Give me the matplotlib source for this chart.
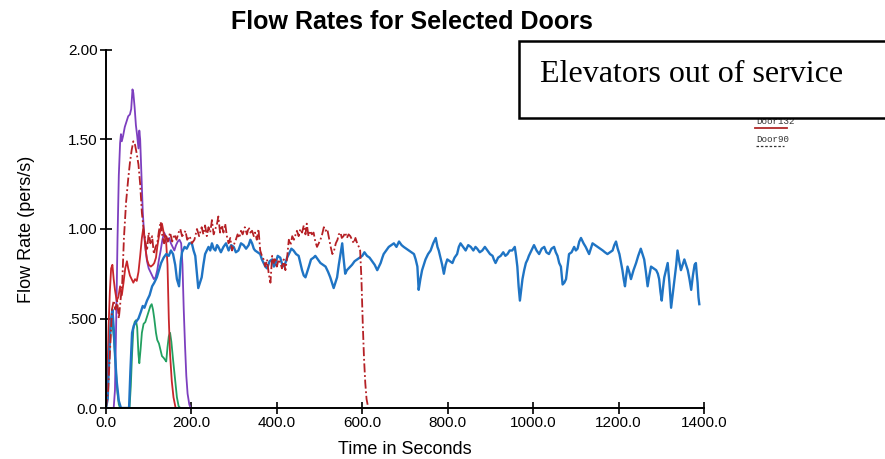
import matplotlib
matplotlib.use("Agg")
import matplotlib.pyplot as plt
from matplotlib.patches import Rectangle
from matplotlib.lines import Line2D

# ---------------- data (time s, flow pers/s) ----------------
blue_pts = [(0,0),(4,0.05),(8,0.32),(12,0.5),(15,0.55),(18,0.45),(21,0.3),(25,0.15),(30,0.04),(35,0),(54,0),(57,0.2),(61,0.42),(65,0.46),(70,0.48),(76,0.5),(82,0.54),(86,0.57),(90,0.56),(96,0.6),(102,0.63),(108,0.68),(113,0.7),(119,0.73),(124,0.77),(129,0.81),(135,0.84),(141,0.86),(147,0.85),(152,0.88),(157,0.86),(162,0.80),(166,0.72),(171,0.68),(175,0.82),(178,0.87),(184,0.9),(189,0.89),(195,0.92),(201,0.92),(205,0.88),(209,0.85),(213,0.75),(216,0.67),(220,0.7),(224,0.73),(228,0.8),(232,0.86),(236,0.88),(240,0.90),(244,0.88),(248,0.92),(252,0.89),(256,0.88),(260,0.91),(263,0.90),(269,0.87),(275,0.90),(281,0.92),(287,0.88),(293,0.91),(299,0.90),(304,0.87),(310,0.88),(316,0.92),(322,0.91),(328,0.89),(334,0.91),(338,0.94),(342,0.92),(346,0.89),(349,0.88),(355,0.87),(361,0.86),(365,0.83),(369,0.81),(373,0.79),(377,0.78),(383,0.82),(389,0.83),(393,0.79),(396,0.80),(402,0.85),(408,0.84),(414,0.79),(420,0.81),(424,0.84),(428,0.86),(434,0.89),(439,0.88),(445,0.86),(451,0.85),(455,0.81),(459,0.77),(463,0.74),(467,0.73),(471,0.76),(475,0.79),(480,0.83),(486,0.84),(490,0.85),(496,0.83),(502,0.81),(508,0.80),(514,0.79),(520,0.76),(525,0.73),(529,0.70),(533,0.67),(537,0.70),(541,0.73),(545,0.80),(549,0.86),(553,0.92),(556,0.84),(560,0.75),(564,0.77),(568,0.78),(572,0.79),(576,0.80),(582,0.82),(588,0.83),(594,0.84),(600,0.85),(605,0.87),(611,0.85),(617,0.84),(623,0.82),(629,0.80),(635,0.77),(639,0.79),(643,0.81),(647,0.84),(650,0.86),(656,0.88),(662,0.90),(668,0.91),(674,0.92),(680,0.90),(686,0.93),(692,0.91),(697,0.90),(703,0.89),(709,0.88),(715,0.87),(721,0.86),(725,0.83),(729,0.79),(732,0.66),(736,0.72),(740,0.77),(744,0.80),(748,0.83),(754,0.86),(760,0.88),(766,0.92),(772,0.95),(776,0.90),(779,0.88),(783,0.84),(787,0.80),(791,0.75),(795,0.80),(799,0.83),(805,0.82),(811,0.81),(816,0.84),(822,0.86),(826,0.90),(830,0.92),(836,0.90),(842,0.88),(848,0.91),(854,0.90),(860,0.88),(865,0.90),(869,0.89),(875,0.87),(881,0.88),(887,0.90),(893,0.88),(899,0.86),(905,0.85),(908,0.83),(912,0.81),(918,0.84),(924,0.85),(930,0.87),(935,0.85),(940,0.86),(945,0.88),(951,0.88),(957,0.90),(960,0.85),(963,0.79),(966,0.68),(969,0.60),(972,0.66),(975,0.72),(979,0.77),(983,0.81),(987,0.83),(990,0.85),(996,0.88),(1002,0.91),(1008,0.88),(1014,0.86),(1020,0.89),(1026,0.90),(1031,0.87),(1037,0.86),(1043,0.89),(1049,0.90),(1053,0.87),(1057,0.85),(1061,0.81),(1065,0.79),(1069,0.69),(1073,0.70),(1077,0.72),(1081,0.80),(1084,0.86),(1090,0.87),(1096,0.90),(1100,0.88),(1104,0.89),(1108,0.93),(1112,0.95),(1118,0.92),(1123,0.90),(1127,0.88),(1131,0.86),(1135,0.89),(1139,0.92),(1145,0.91),(1151,0.90),(1157,0.89),(1163,0.88),(1168,0.87),(1174,0.86),(1180,0.87),(1186,0.88),(1190,0.91),(1194,0.93),(1198,0.89),(1202,0.86),(1206,0.81),(1209,0.77),(1212,0.72),(1215,0.68),(1218,0.74),(1221,0.79),(1225,0.76),(1229,0.72),(1235,0.77),(1241,0.81),(1246,0.85),(1252,0.89),(1256,0.86),(1260,0.83),(1264,0.76),(1268,0.68),(1272,0.74),(1276,0.79),(1282,0.78),(1288,0.77),(1292,0.75),(1295,0.72),(1298,0.65),(1301,0.60),(1304,0.67),(1307,0.73),(1311,0.77),(1315,0.81),(1319,0.70),(1323,0.56),(1327,0.64),(1331,0.72),(1335,0.80),(1338,0.88),(1342,0.82),(1346,0.77),(1350,0.80),(1354,0.83),(1358,0.80),(1362,0.77),(1366,0.72),(1370,0.66),(1374,0.74),(1378,0.80),(1381,0.81),(1383,0.75),(1385,0.70),(1387,0.62),(1389,0.58)]

red_dashdot_pts = [(0,0),(5,0.1),(10,0.35),(14,0.55),(18,0.6),(22,0.55),(26,0.6),(30,0.5),(34,0.6),(38,0.7),(42,0.95),(47,1.15),(52,1.28),(56,1.37),(60,1.44),(64,1.49),(68,1.47),(72,1.42),(76,1.36),(80,1.25),(84,1.09),(88,1.0),(92,0.93),(96,0.88),(100,0.98),(104,0.92),(108,0.96),(112,0.86),(116,0.9),(120,0.92),(124,0.99),(128,1.04),(132,0.96),(136,0.92),(140,0.97),(145,0.93),(150,0.98),(155,0.93),(160,0.97),(165,0.94),(170,0.98),(174,1.0),(178,0.96),(182,0.97),(186,0.99),(190,0.94),(196,0.96),(201,0.92),(207,0.94),(213,1.0),(218,0.96),(224,1.01),(228,0.97),(232,1.02),(236,0.96),(240,1.01),(244,0.98),(248,1.05),(252,0.97),(256,1.0),(260,1.03),(263,1.07),(267,0.98),(271,1.02),(275,0.98),(279,1.03),(283,0.96),(287,0.92),(291,0.95),(295,0.88),(299,0.91),(304,0.94),(308,0.97),(312,0.95),(316,0.99),(320,0.97),(325,1.01),(330,0.97),(334,1.01),(338,0.98),(342,0.99),(346,0.96),(349,0.98),(353,0.94),(357,1.0),(361,0.88),(365,0.85),(369,0.83),(373,0.79),(377,0.83),(381,0.75),(385,0.70),(389,0.85),(393,0.81),(396,0.84),(400,0.79),(404,0.83),(408,0.81),(412,0.78),(416,0.83),(420,0.77),(424,0.84),(428,0.94),(432,0.91),(436,0.96),(440,0.94),(444,0.97),(447,0.99),(451,0.96),(455,1.0),(459,0.98),(463,1.02),(467,0.97),(470,1.03),(474,0.96),(478,0.99),(482,0.97),(486,0.98),(490,0.93),(494,0.90),(498,0.92),(502,0.94),(506,0.97),(510,1.01),(514,0.99),(518,1.0),(522,0.95),(526,0.90),(530,0.86),(534,0.88),(538,0.92),(542,0.94),(545,0.97),(549,0.98),(552,0.95),(556,0.96),(560,0.98),(564,0.95),(568,0.97),(572,0.96),(576,0.94),(580,0.92),(584,0.95),(588,0.92),(592,0.90),(595,0.88),(598,0.72),(601,0.48),(604,0.28),(607,0.14),(610,0.05),(614,0.0)]

red_solid_pts = [(0,0),(3,0.15),(6,0.45),(9,0.65),(12,0.78),(15,0.8),(18,0.72),(21,0.66),(25,0.6),(29,0.62),(33,0.68),(37,0.63),(41,0.7),(45,0.78),(49,0.82),(52,0.78),(56,0.74),(60,0.72),(64,0.7),(68,0.72),(72,0.71),(76,0.76),(80,0.85),(84,0.95),(87,1.0),(90,0.96),(93,0.88),(96,0.83),(100,0.8),(105,0.79),(110,0.8),(113,0.81),(117,0.84),(120,0.9),(124,0.96),(128,1.0),(131,1.03),(135,0.98),(138,0.95),(141,0.92),(144,0.8),(147,0.5),(150,0.3),(154,0.15),(158,0.06),(163,0.0)]

purple_pts = [(0,0),(18,0),(21,0.1),(24,0.5),(27,0.95),(30,1.3),(33,1.48),(35,1.53),(37,1.49),(40,1.52),(44,1.57),(48,1.6),(52,1.63),(56,1.64),(59,1.67),(62,1.78),(64,1.76),(67,1.68),(70,1.58),(73,1.52),(76,1.45),(78,1.55),(80,1.5),(83,1.3),(86,1.1),(89,0.98),(92,0.9),(96,0.82),(100,0.78),(104,0.76),(108,0.74),(112,0.72),(116,0.73),(120,0.77),(124,0.83),(128,0.88),(132,0.94),(136,0.98),(140,0.96),(144,0.93),(148,0.95),(152,0.92),(156,0.9),(160,0.88),(164,0.91),(168,0.93),(172,0.94),(176,0.92),(179,0.8),(182,0.55),(185,0.35),(188,0.18),(191,0.08),(195,0.02),(198,0.0)]

green_pts = [(0,0),(3,0.05),(6,0.25),(9,0.42),(12,0.5),(15,0.47),(18,0.4),(21,0.3),(24,0.18),(27,0.08),(30,0.02),(33,0),(55,0),(58,0.12),(61,0.3),(64,0.44),(67,0.48),(70,0.49),(73,0.45),(76,0.3),(78,0.25),(81,0.33),(84,0.42),(88,0.47),(92,0.48),(96,0.51),(100,0.54),(104,0.57),(107,0.58),(110,0.55),(113,0.5),(117,0.42),(120,0.38),(124,0.36),(128,0.32),(131,0.29),(135,0.28),(138,0.27),(141,0.26),(144,0.34),(147,0.4),(150,0.42),(153,0.37),(157,0.27),(160,0.2),(163,0.13),(166,0.06),(170,0.01),(174,0.0)]

door90_pts = [(0,0),(1400,0)]

x_ticks = [0, 200, 400, 600, 800, 1000, 1200, 1400]
x_tick_labels = ["0.0", "200.0", "400.0", "600.0", "800.0", "1000.0", "1200.0", "1400.0"]
y_ticks = [0, 0.5, 1.0, 1.5, 2.0]
y_tick_labels = ["0.0", ".500", "1.00", "1.50", "2.00"]

legend_labels = ["Door132", "Door90"]

# ---------------- figure ----------------
W, H = 885, 459
fig = plt.figure(figsize=(W / 100, H / 100), dpi=100)
ax = fig.add_axes([106 / W, 1 - 408 / H, (704 - 106) / W, (408 - 50) / H])

def unzip(pts):
    return [p[0] for p in pts], [p[1] for p in pts]

SANS = ["Liberation Sans", "DejaVu Sans"]

ax.plot(*unzip(door90_pts), color="#555555", lw=0.8, ls=(0, (3, 2)), zorder=1)
ax.plot(*unzip(green_pts), color="#22a060", lw=1.3, zorder=3)
ax.plot(*unzip(purple_pts), color="#7d3fbf", lw=1.3, zorder=3)
ax.plot(*unzip(red_solid_pts), color="#c8262b", lw=1.3, zorder=4)
ax.plot(*unzip(blue_pts), color="#1f74c4", lw=1.7, zorder=5)
ax.plot(*unzip(red_dashdot_pts), color="#b52025", lw=1.3, ls=(0, (5, 1.5, 1, 1.5)), zorder=6)

ax.set_xlim(0, 1400)
ax.set_ylim(0, 2.0)
for s in ("top", "right"):
    ax.spines[s].set_visible(False)
for s in ("left", "bottom"):
    ax.spines[s].set_linewidth(1.4)
    ax.spines[s].set_zorder(7)
ax.set_xticks(x_ticks)
ax.set_xticklabels(x_tick_labels)
ax.set_yticks(y_ticks)
ax.set_yticklabels(y_tick_labels)
ax.tick_params(axis="both", direction="inout", length=8, width=1.2, labelsize=11, pad=2)
for lab in ax.get_xticklabels() + ax.get_yticklabels():
    lab.set_family(SANS)

ax.set_xlabel("Time in Seconds", fontsize=13, family=SANS, labelpad=8)
ax.set_ylabel("Flow Rate (pers/s)", fontsize=13, family=SANS, labelpad=24)

fig.text(412 / W, 1 - 22 / H, "Flow Rates for Selected Doors", ha="center", va="center",
         fontsize=18, fontweight="bold", family=SANS)

# legend (partially hidden behind the annotation box)
fig.text(756 / W, 1 - 121 / H, legend_labels[0], ha="left", va="center", fontsize=6.6,
         family=["Liberation Mono", "DejaVu Sans Mono"], color="#333333", zorder=5)
fig.add_artist(Line2D([755 / W, 787 / W], [1 - 128 / H, 1 - 128 / H], color="#b02a2a", lw=1.3,
                      transform=fig.transFigure, zorder=5))
fig.text(756 / W, 1 - 139 / H, legend_labels[1], ha="left", va="center", fontsize=6.6,
         family=["Liberation Mono", "DejaVu Sans Mono"], color="#333333", zorder=5)
fig.add_artist(Line2D([756 / W, 784 / W], [1 - 146 / H, 1 - 146 / H], color="#333333", lw=0.9,
                      ls=(0, (2, 1.5)), transform=fig.transFigure, zorder=5))

# annotation box
box = Rectangle((519 / W, 1 - 118 / H), 0.5, 77 / H, transform=fig.transFigure,
                facecolor="white", edgecolor="black", lw=1.8, zorder=10, clip_on=False)
fig.add_artist(box)
fig.text(540 / W, 1 - 82 / H, "Elevators out of service", ha="left", va="baseline",
         fontsize=23, family=["Liberation Serif", "DejaVu Serif"], zorder=11)

fig.savefig("out.png", dpi=100)
